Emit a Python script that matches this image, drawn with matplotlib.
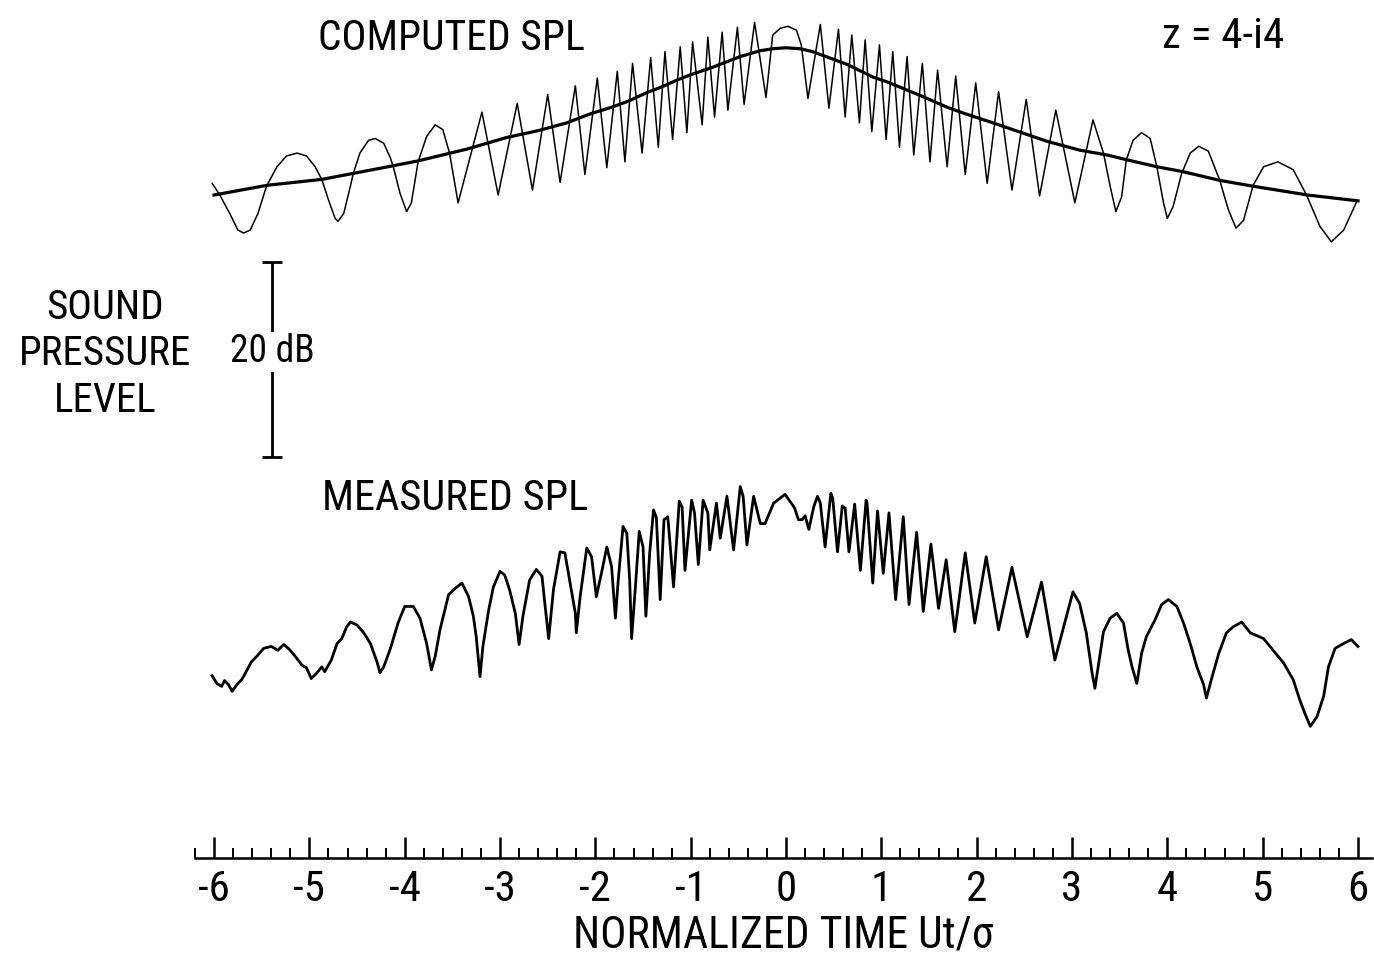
import matplotlib
matplotlib.use('Agg')
import matplotlib.pyplot as plt
from matplotlib.ticker import MultipleLocator

# narrow lettering first, plain sans as fallback
plt.rcParams['font.family'] = ['Roboto Condensed', 'Liberation Sans Narrow', 'Roboto', 'DejaVu Sans']
plt.rcParams['axes.unicode_minus'] = False

# computed SPL, dB against normalized time Ut/sigma (peaks, troughs and a few shoulder points)
comp_t = [-6.02, -5.94, -5.83, -5.75, -5.69, -5.62, -5.54, -5.45, -5.34, -5.24,
          -5.13, -5.03, -4.94, -4.87, -4.80, -4.73, -4.70, -4.64, -4.57, -4.54,
          -4.47, -4.38, -4.31, -4.22, -4.15, -4.12, -4.05, -3.98, -3.93, -3.86,
          -3.77, -3.68, -3.60, -3.53, -3.44, -3.19, -3.02, -2.82, -2.66, -2.50,
          -2.37, -2.21, -2.11, -1.98, -1.88, -1.77, -1.69, -1.61, -1.51, -1.42,
          -1.34, -1.27, -1.19, -1.11, -1.04, -0.98, -0.88, -0.82, -0.75, -0.67,
          -0.61, -0.51, -0.44, -0.33, -0.21, -0.14, -0.06, 0.02, 0.11, 0.16,
          0.23, 0.36, 0.45, 0.55, 0.62, 0.69, 0.77, 0.83, 0.90, 0.98,
          1.05, 1.12, 1.19, 1.27, 1.34, 1.43, 1.51, 1.59, 1.69, 1.78,
          1.88, 1.99, 2.11, 2.23, 2.37, 2.52, 2.66, 2.83, 3.03, 3.22,
          3.33, 3.40, 3.46, 3.52, 3.57, 3.64, 3.73, 3.82, 3.89, 3.96,
          4.00, 4.06, 4.15, 4.24, 4.33, 4.43, 4.55, 4.64, 4.72, 4.80,
          4.90, 5.01, 5.16, 5.32, 5.46, 5.60, 5.72, 5.85, 5.99]
comp_db = [69.4, 68.2, 66.2, 64.6, 64.3, 64.6, 66.3, 69.1, 71.1, 72.2,
           72.5, 72.2, 71.1, 69.8, 67.7, 65.8, 65.5, 66.3, 69.1, 70.4,
           72.5, 73.8, 74.0, 73.5, 72.0, 71.1, 68.4, 66.5, 67.4, 71.6,
           74.2, 75.4, 74.9, 72.5, 67.4, 76.7, 68.2, 77.6, 68.7, 78.5,
           69.5, 79.4, 70.3, 80.2, 71.0, 80.9, 71.6, 81.7, 72.5, 82.3,
           73.1, 82.9, 73.9, 83.4, 74.6, 83.9, 75.4, 84.4, 76.2, 84.9,
           76.9, 85.4, 77.5, 85.9, 78.2, 84.6, 85.3, 85.5, 85.1, 83.6,
           78.1, 85.7, 77.1, 85.2, 76.2, 84.6, 75.6, 84.1, 74.7, 83.6,
           73.9, 82.9, 73.1, 82.4, 72.3, 81.7, 71.6, 81.0, 71.1, 80.4,
           70.3, 79.7, 69.4, 78.8, 68.7, 78.0, 68.1, 76.9, 67.4, 75.9,
           72.5, 69.1, 66.5, 68.0, 71.8, 73.8, 74.6, 74.0, 71.1, 67.4,
           65.8, 67.0, 70.4, 72.5, 73.2, 72.7, 69.7, 66.7, 64.8, 65.6,
           69.2, 71.1, 71.6, 70.8, 68.2, 65.0, 63.4, 64.6, 67.6]

# smooth mean curve of the computed SPL
mean_t = [-6.0, -5.44, -4.87, -4.12, -3.86, -3.35, -2.93, -2.60, -2.30, -2.06,
          -1.83, -1.66, -1.46, -1.30, -1.14, -1.01, -0.77, -0.48, -0.27, -0.14,
          0.0, 0.15, 0.28, 0.64, 0.91, 1.06, 1.41, 1.69, 1.86, 2.17,
          2.38, 2.74, 3.08, 3.37, 3.58, 3.89, 4.16, 4.55, 4.90, 5.47, 6.0]
mean_db = [68.2, 69.2, 69.8, 71.2, 71.7, 72.9, 74.1, 74.8, 75.6, 76.5,
           77.2, 77.8, 78.7, 79.3, 80.0, 80.5, 81.3, 82.4, 83.0, 83.2,
           83.3, 83.2, 82.9, 81.6, 80.3, 79.8, 78.4, 77.2, 76.6, 75.6,
           74.9, 73.7, 72.8, 72.3, 71.8, 71.1, 70.6, 69.7, 69.1, 68.2, 67.6]

# measured SPL trace
meas_t = [-6.02, -5.97, -5.92, -5.89, -5.85, -5.81, -5.76, -5.71, -5.68, -5.61,
          -5.55, -5.48, -5.40, -5.33, -5.27, -5.22, -5.15, -5.08, -5.03, -4.98,
          -4.92, -4.87, -4.84, -4.77, -4.71, -4.66, -4.61, -4.57, -4.50, -4.43,
          -4.36, -4.29, -4.26, -4.22, -4.15, -4.07, -4.00, -3.91, -3.84, -3.77,
          -3.72, -3.68, -3.63, -3.54, -3.49, -3.40, -3.33, -3.28, -3.25, -3.21,
          -3.18, -3.12, -3.07, -3.00, -2.95, -2.90, -2.84, -2.80, -2.76, -2.69,
          -2.62, -2.56, -2.53, -2.49, -2.44, -2.37, -2.32, -2.27, -2.21, -2.20,
          -2.16, -2.09, -2.04, -1.99, -1.93, -1.88, -1.83, -1.79, -1.76, -1.71,
          -1.67, -1.64, -1.62, -1.58, -1.54, -1.50, -1.47, -1.43, -1.39, -1.36,
          -1.32, -1.28, -1.24, -1.18, -1.12, -1.09, -1.06, -0.99, -0.96, -0.92,
          -0.87, -0.82, -0.80, -0.73, -0.69, -0.62, -0.55, -0.48, -0.45, -0.41,
          -0.34, -0.27, -0.22, -0.13, -0.01, 0.04, 0.09, 0.13, 0.17, 0.20,
          0.24, 0.29, 0.33, 0.36, 0.41, 0.47, 0.49, 0.54, 0.59, 0.62,
          0.66, 0.72, 0.78, 0.84, 0.85, 0.91, 0.96, 1.02, 1.08, 1.15,
          1.23, 1.29, 1.37, 1.44, 1.52, 1.60, 1.68, 1.77, 1.88, 1.98,
          2.10, 2.23, 2.37, 2.53, 2.68, 2.82, 3.01, 3.08, 3.15, 3.21,
          3.24, 3.28, 3.33, 3.40, 3.47, 3.54, 3.59, 3.63, 3.68, 3.73,
          3.78, 3.87, 3.94, 4.01, 4.10, 4.17, 4.24, 4.31, 4.38, 4.41,
          4.47, 4.54, 4.62, 4.69, 4.78, 4.87, 5.01, 5.11, 5.22, 5.32,
          5.39, 5.44, 5.50, 5.57, 5.64, 5.69, 5.76, 5.85, 5.93, 6.00]
meas_db = [18.9, 18.1, 17.8, 18.4, 18.0, 17.3, 18.0, 18.5, 19.0, 20.3,
           20.9, 21.7, 21.9, 21.5, 22.1, 21.7, 20.9, 20.0, 19.7, 18.6,
           19.2, 19.8, 19.3, 20.5, 22.2, 22.7, 23.9, 24.4, 24.1, 23.3,
           22.2, 20.3, 19.2, 19.8, 21.7, 24.3, 26.0, 26.0, 24.8, 22.2,
           19.5, 20.9, 23.6, 27.2, 27.7, 28.4, 27.0, 25.0, 22.9, 18.8,
           21.9, 25.6, 28.0, 29.6, 29.2, 27.7, 25.3, 22.1, 25.0, 28.7,
           29.8, 29.1, 26.3, 22.7, 27.7, 31.6, 31.5, 28.7, 25.3, 23.3,
           27.0, 32.0, 31.1, 27.0, 29.7, 32.1, 30.1, 24.8, 28.7, 34.2,
           33.5, 28.7, 22.7, 28.0, 33.7, 32.1, 25.0, 31.5, 35.9, 35.1,
           26.7, 34.9, 35.2, 28.0, 36.8, 36.2, 29.7, 36.9, 35.6, 30.3,
           36.9, 35.6, 31.8, 36.6, 33.0, 37.3, 31.8, 38.3, 37.3, 32.3,
           37.3, 34.5, 34.5, 36.6, 37.5, 36.8, 36.1, 34.9, 34.9, 35.3,
           33.9, 36.2, 37.3, 36.6, 32.1, 37.6, 37.1, 31.6, 36.3, 36.1,
           31.6, 36.5, 29.7, 36.9, 36.6, 28.4, 35.8, 29.4, 35.6, 26.7,
           35.2, 26.2, 33.6, 25.5, 32.4, 25.8, 30.8, 23.4, 31.5, 24.3,
           31.1, 23.6, 30.0, 22.9, 28.5, 20.5, 27.5, 26.3, 23.3, 19.2,
           17.6, 20.2, 23.4, 24.8, 25.3, 24.3, 21.5, 19.8, 18.1, 21.2,
           22.9, 24.6, 26.2, 26.7, 26.0, 24.3, 22.2, 19.8, 18.0, 16.6,
           18.8, 21.2, 23.3, 23.9, 24.4, 23.3, 22.7, 21.5, 20.2, 18.5,
           16.4, 15.1, 13.7, 14.7, 16.8, 19.8, 21.7, 22.2, 22.6, 21.9]

tick_vals = list(range(-6, 7))
tick_labels = [str(v) for v in tick_vals]

# 20 dB scale bar
bar_t = -5.39
bar_mid = 51.3
bar_half = 10

fig = plt.figure(figsize=(13.74, 9.58), dpi=100)
ax = fig.add_axes([195 / 1374, 100 / 958, 1177 / 1374, 858 / 958])
ax.set_xlim(-6.2, 6.147)
ax.set_ylim(0.2, 88.2)

ax.plot(comp_t, comp_db, color='black', lw=1.1)
ax.plot(mean_t, mean_db, color='black', lw=2.3)
ax.plot(meas_t, meas_db, color='black', lw=2.0)

ax.errorbar([bar_t], [bar_mid], yerr=[bar_half], fmt='none', ecolor='black',
            elinewidth=2, capsize=7, capthick=2)
ax.text(bar_t, 52.1, '20 dB', fontsize=27, ha='center', va='center',
        bbox=dict(fc='white', ec='none', pad=1))

ax.text(-4.91, 83.1, 'COMPUTED SPL', fontsize=30, ha='left', va='baseline')
ax.text(3.94, 83.3, 'z = 4-i4', fontsize=31, ha='left', va='baseline')
ax.text(-4.87, 35.9, 'MEASURED SPL', fontsize=30.5, ha='left', va='baseline')
ax.text(-7.14, 51.9, 'SOUND\nPRESSURE\nLEVEL', fontsize=29.5, ha='center',
        va='center', ma='center', linespacing=1.25)

# bottom time axis only
for side in ['top', 'left', 'right']:
    ax.spines[side].set_visible(False)
ax.spines['bottom'].set_linewidth(1.8)
ax.set_yticks([])
ax.set_xticks(tick_vals)
ax.set_xticklabels(tick_labels)
ax.xaxis.set_minor_locator(MultipleLocator(0.2))
ax.tick_params(axis='x', which='major', direction='in', length=15, width=1.8,
               pad=8, labelsize=31)
ax.tick_params(axis='x', which='minor', direction='in', length=7, width=1.4)
ax.set_xlabel('NORMALIZED TIME Ut/σ', fontsize=31.5, labelpad=3)

fig.savefig('out.png', dpi=100)
